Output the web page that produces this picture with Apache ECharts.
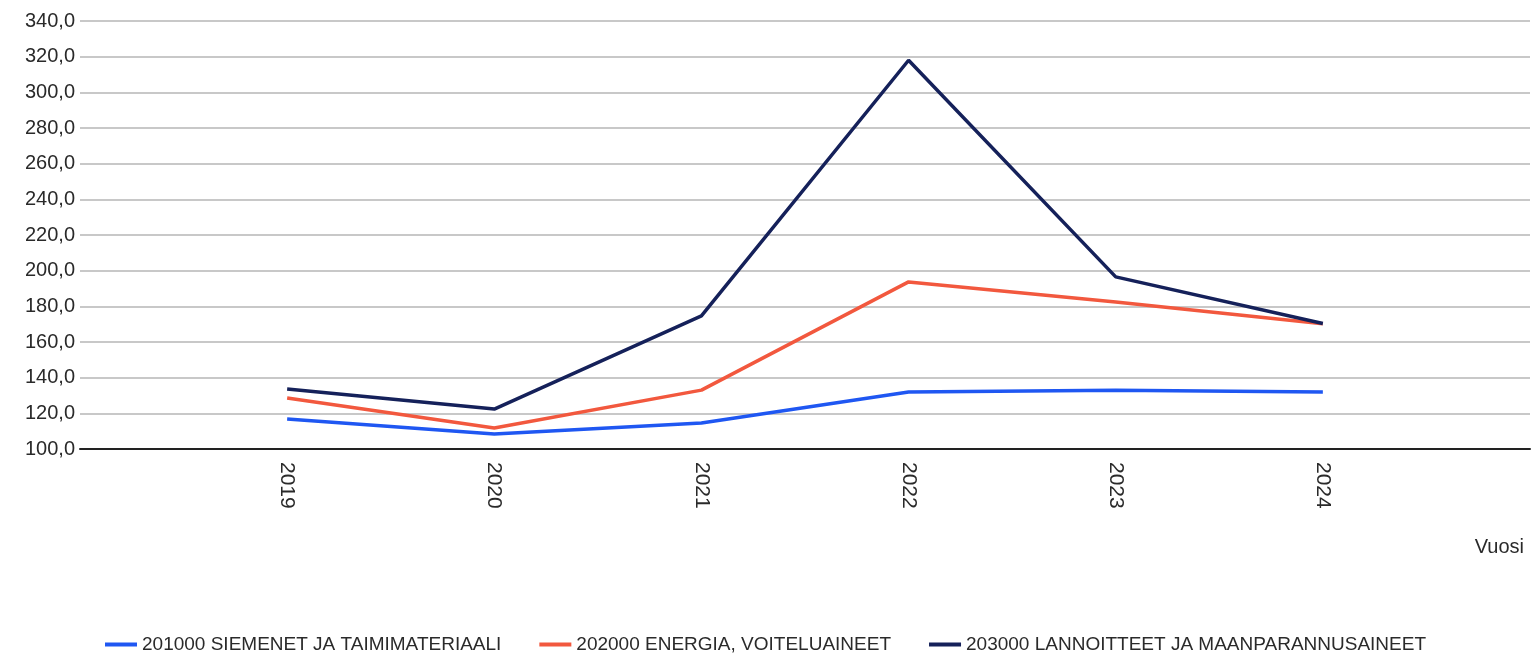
<!DOCTYPE html>
<html>
<head>
<meta charset="utf-8">
<script src="https://cdn.jsdelivr.net/npm/echarts@6/dist/echarts.min.js"></script>
<style>
  html, body { margin: 0; padding: 0; background: #fff; }
  #chart { width: 1532px; height: 659px; }
</style>
</head>
<body>
<div id="chart"></div>
<script>
// years and index values
var years = [2019, 2020, 2021, 2022, 2023, 2024];
var seeds = [116.8, 108.4, 114.6, 132.0, 133.0, 132.0];
var energy = [128.6, 111.8, 133.0, 193.7, 182.4, 170.2];
var fertilizer = [133.6, 122.4, 174.6, 318.0, 196.5, 170.4];
var seriesNames = [
  '201000 SIEMENET JA TAIMIMATERIAALI',
  '202000 ENERGIA, VOITELUAINEET',
  '203000 LANNOITTEET JA MAANPARANNUSAINEET'
];
var colors = ['#1f57f2', '#f2583e', '#15215a'];

function pairs(vals) {
  return vals.map(function (v, i) { return [years[i], v]; });
}

var chart = echarts.init(document.getElementById('chart'));
chart.setOption({
  animation: false,
  textStyle: { fontFamily: 'Liberation Sans, Arial, sans-serif' },
  grid: { left: 80, right: 2, top: 21, bottom: 210, containLabel: false },
  legend: {
    bottom: 0,
    left: 100,
    itemWidth: 32,
    itemHeight: 4,
    itemGap: 38,
    icon: 'rect',
    textStyle: { color: '#2a2a2a', fontSize: 19 },
    data: seriesNames
  },
  xAxis: {
    type: 'value',
    min: 2018,
    max: 2025,
    interval: 1,
    name: 'Vuosi',
    nameLocation: 'end',
    nameGap: 0,
    nameTextStyle: {
      color: '#2a2a2a', fontSize: 20, align: 'right', verticalAlign: 'top',
      padding: [88, 6, 0, 0]
    },
    axisLine: { lineStyle: { color: '#222', width: 2 } },
    axisTick: { show: false },
    splitLine: { show: false },
    axisLabel: {
      rotate: -90,
      margin: 13,
      color: '#2a2a2a',
      fontSize: 21,
      formatter: function (v) {
        return (v >= 2019 && v <= 2024) ? String(v) : '';
      }
    }
  },
  yAxis: {
    type: 'value',
    min: 100,
    max: 340,
    interval: 20,
    axisLine: { show: false },
    axisTick: { show: false },
    splitLine: { lineStyle: { color: '#c8c8c8', width: 2 } },
    axisLabel: {
      color: '#2a2a2a',
      fontSize: 20,
      margin: 5,
      formatter: function (v) { return v.toFixed(1).replace('.', ','); }
    }
  },
  series: [
    { name: seriesNames[0], type: 'line', data: pairs(seeds), showSymbol: false,
      lineStyle: { width: 3.5, color: colors[0] }, itemStyle: { color: colors[0] } },
    { name: seriesNames[1], type: 'line', data: pairs(energy), showSymbol: false,
      lineStyle: { width: 3.5, color: colors[1] }, itemStyle: { color: colors[1] } },
    { name: seriesNames[2], type: 'line', data: pairs(fertilizer), showSymbol: false,
      lineStyle: { width: 3.5, color: colors[2] }, itemStyle: { color: colors[2] } }
  ]
});
</script>
</body>
</html>
